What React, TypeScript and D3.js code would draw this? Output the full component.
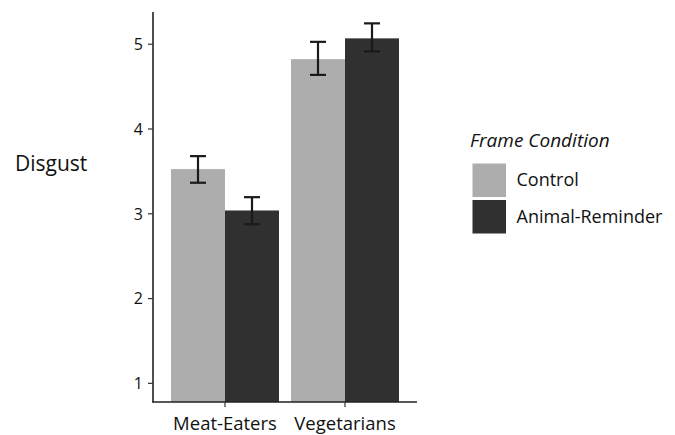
import React from "react";
import * as d3 from "d3";

const categories = ["Meat-Eaters", "Vegetarians"];
const conditions = ["Control", "Animal-Reminder"];
const controlMeans = [3.527, 4.824];
const controlLower = [3.366, 4.638];
const controlUpper = [3.68, 5.028];
const reminderMeans = [3.039, 5.069];
const reminderLower = [2.877, 4.915];
const reminderUpper = [3.196, 5.246];
const yTicks = [1, 2, 3, 4, 5];
const fills = ["#adadad", "#303030"];

const W = 675;
const H = 435;
const FONT = "'Open Sans', sans-serif";

export default function App() {
  const x = d3.scalePoint<string>().domain(categories).range([153, 417]).padding(0.6);
  const step = x.step();
  const sub = d3.scaleBand<string>().domain(conditions).range([0, 0.9 * step]);
  const y = d3.scaleLinear().domain([0.78, 5.38]).range([402, 12]);

  const rows = [
    { means: controlMeans, lo: controlLower, hi: controlUpper },
    { means: reminderMeans, lo: reminderLower, hi: reminderUpper },
  ];
  const capW = 16;

  return (
    <svg width={W} height={H} style={{ position: "absolute", left: 0, top: 0, background: "#fff" }}>
      <rect x={0} y={0} width={W} height={H} fill="#fff" />
      {categories.map((c, i) =>
        conditions.map((cond, j) => {
          const left = (x(c) as number) - 0.45 * step + (sub(cond) as number);
          const bw = sub.bandwidth();
          const r = rows[j];
          const cx = left + bw / 2;
          return (
            <g key={c + cond}>
              <rect x={left} y={y(r.means[i])} width={bw} height={y(0.78) - y(r.means[i])} fill={fills[j]} />
              <line x1={cx} x2={cx} y1={y(r.lo[i])} y2={y(r.hi[i])} stroke="#1a1a1a" strokeWidth={2.2} />
              <line x1={cx - capW / 2} x2={cx + capW / 2} y1={y(r.lo[i])} y2={y(r.lo[i])} stroke="#1a1a1a" strokeWidth={2.2} />
              <line x1={cx - capW / 2} x2={cx + capW / 2} y1={y(r.hi[i])} y2={y(r.hi[i])} stroke="#1a1a1a" strokeWidth={2.2} />
            </g>
          );
        })
      )}
      {/* y axis */}
      <line x1={153} x2={153} y1={12} y2={402.5} stroke="#222" strokeWidth={1.6} />
      {yTicks.map((t) => (
        <g key={t}>
          <line x1={148} x2={153} y1={y(t)} y2={y(t)} stroke="#333" strokeWidth={1.2} />
          <text x={143} y={y(t)} dy="0.36em" textAnchor="end" fontFamily={FONT} fontSize={16} fill="#111">
            {t}
          </text>
        </g>
      ))}
      {/* x axis */}
      <line x1={152.2} x2={417} y1={402} y2={402} stroke="#222" strokeWidth={1.6} />
      {categories.map((c) => (
        <g key={c}>
          <line x1={x(c)} x2={x(c)} y1={402} y2={407} stroke="#333" strokeWidth={1.2} />
          <text x={x(c)} y={429.5} textAnchor="middle" fontFamily={FONT} fontSize={18.5} fill="#111">
            {c}
          </text>
        </g>
      ))}
      <text x={15} y={171} fontFamily={FONT} fontSize={21} fill="#111">
        Disgust
      </text>
      {/* legend */}
      <text x={470} y={147} fontFamily={FONT} fontSize={19} fontStyle="italic" fill="#111">
        Frame Condition
      </text>
      {conditions.map((cond, j) => (
        <g key={cond}>
          <rect x={472.5} y={163.5 + j * 36.5} width={33.5} height={33.5} fill={fills[j]} />
          <text x={516.5} y={180 + j * 36.5} dy="0.36em" fontFamily={FONT} fontSize={18} fill="#111">
            {cond}
          </text>
        </g>
      ))}
    </svg>
  );
}
